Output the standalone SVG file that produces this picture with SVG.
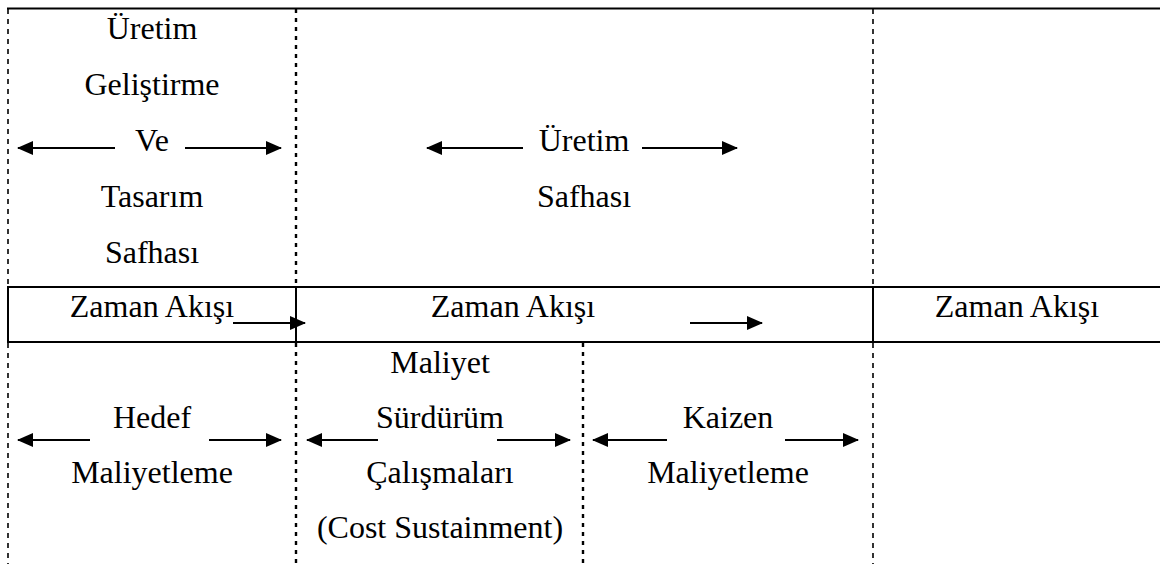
<svg xmlns="http://www.w3.org/2000/svg" width="1160" height="564" viewBox="0 0 1160 564">
  <style>
    text { font-family: 'Liberation Serif', 'Times New Roman', Times, 'DejaVu Serif', serif; font-size: 32px; fill: #000; text-anchor: middle; }
    .solid { stroke: #000; stroke-width: 2; fill: none; }
    .dash { stroke: #000; stroke-width: 1.6; stroke-dasharray: 5 5; fill: none; }
    .dot { stroke: #000; stroke-width: 2.4; stroke-dasharray: 4 5; fill: none; }
    .arr { stroke: #000; stroke-width: 2; fill: none; marker-end: url(#head); }
  </style>
  <defs>
    <marker id="head" viewBox="0 0 16 14" refX="15" refY="7" markerWidth="16" markerHeight="14" markerUnits="userSpaceOnUse" orient="auto">
      <path d="M0,0 L16,7 L0,14 Z" fill="#000"/>
    </marker>
  </defs>
  <rect width="1160" height="564" fill="#fff"/>

  <!-- frame: top rule, time band and column dividers -->
  <g id="frame">
    <line class="solid" x1="7" y1="8.5" x2="1160" y2="8.5"/>
    <line class="dash" x1="8" y1="9" x2="8" y2="287"/>
    <line class="dot" x1="296" y1="9" x2="296" y2="287"/>
    <line class="dash" x1="873" y1="9" x2="873" y2="287"/>
    <path class="solid" d="M1160,287 H8 V342 H1160"/>
    <line class="solid" x1="296" y1="287" x2="296" y2="342"/>
    <line class="solid" x1="873" y1="287" x2="873" y2="342"/>
    <line class="dash" x1="8" y1="343" x2="8" y2="564"/>
    <line class="dot" x1="296" y1="343" x2="296" y2="564"/>
    <line class="dot" x1="583" y1="343" x2="583" y2="564"/>
    <line class="dash" x1="873" y1="343" x2="873" y2="564"/>
  </g>

  <g font-family="Liberation Serif, serif">
  <g id="phase-design">
    <text x="152" y="39">Üretim</text>
    <text x="152" y="95">Geliştirme</text>
    <text x="152" y="151">Ve</text>
    <text x="152" y="207">Tasarım</text>
    <text x="152" y="263">Safhası</text>
  </g>

  <g id="phase-production">
    <text x="584" y="151">Üretim</text>
    <text x="584" y="207">Safhası</text>
  </g>

  <g id="time-flow">
    <text x="152" y="317">Zaman Akışı</text>
    <text x="513" y="317">Zaman Akışı</text>
    <text x="1017" y="317">Zaman Akışı</text>
  </g>

  <g id="target-costing">
    <text x="152" y="428">Hedef</text>
    <text x="152" y="483">Maliyetleme</text>
  </g>

  <g id="cost-sustainment">
    <text x="440" y="373">Maliyet</text>
    <text x="440" y="428">Sürdürüm</text>
    <text x="440" y="483">Çalışmaları</text>
    <text x="440" y="538">(Cost Sustainment)</text>
  </g>

  <g id="kaizen-costing">
    <text x="728" y="428">Kaizen</text>
    <text x="728" y="483">Maliyetleme</text>
  </g>
  </g>

  <!-- span arrows -->
  <g id="connectors">
    <line class="arr" x1="115" y1="148" x2="18" y2="148"/>
    <line class="arr" x1="185" y1="148" x2="281" y2="148"/>
    <line class="arr" x1="523" y1="148" x2="427" y2="148"/>
    <line class="arr" x1="642" y1="148" x2="737" y2="148"/>
    <line class="arr" x1="233" y1="323" x2="305" y2="323"/>
    <line class="arr" x1="690" y1="323" x2="762" y2="323"/>
    <line class="arr" x1="90" y1="440" x2="18" y2="440"/>
    <line class="arr" x1="209" y1="440" x2="281" y2="440"/>
    <line class="arr" x1="378" y1="440" x2="307" y2="440"/>
    <line class="arr" x1="497" y1="440" x2="570" y2="440"/>
    <line class="arr" x1="667" y1="440" x2="593" y2="440"/>
    <line class="arr" x1="785" y1="440" x2="858" y2="440"/>
  </g>
</svg>
